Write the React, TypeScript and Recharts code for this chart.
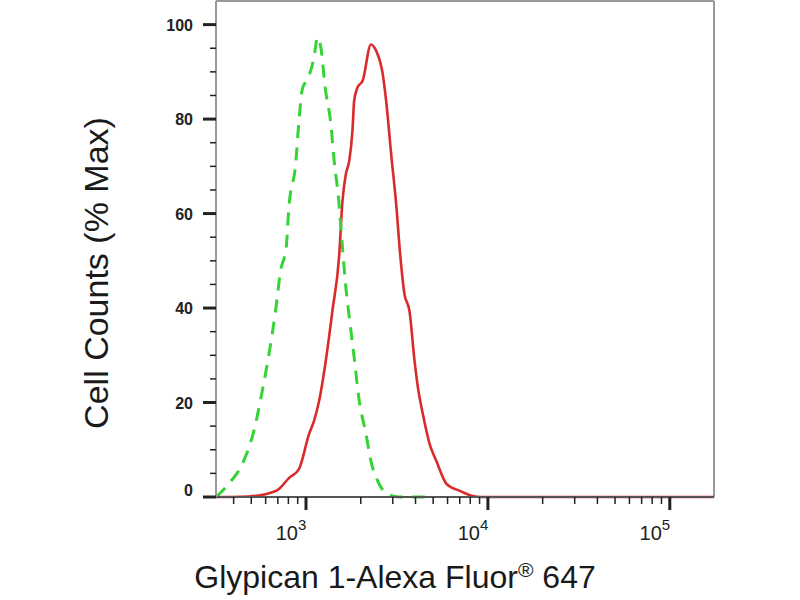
import { LineChart, Line, XAxis, YAxis, ReferenceLine } from "recharts";

// fluorescence intensity (log) and % of max
const isotypeX = [320, 376, 454, 517, 575, 626, 680, 725, 778, 805, 877, 915, 955, 1000, 1062, 1107, 1155, 1206, 1274, 1369, 1428, 1508, 1587, 1650, 1730, 1840, 1963, 2137, 2275, 2476, 2818, 3266, 5000];
const isotypeY = [0, 2.8, 7.6, 14, 22.5, 30.3, 39.4, 47.9, 52.8, 61.3, 70.5, 79.7, 86.4, 88, 90.3, 93.1, 97.3, 95.2, 86.7, 79, 71.2, 63.4, 52.8, 45, 38, 29.5, 20.3, 13.3, 7.6, 3.4, 0.6, 0, 0];

const sampleX = [320, 389, 484, 598, 710, 805, 915, 1039, 1107, 1180, 1284, 1397, 1521, 1587, 1657, 1730, 1800, 1840, 1920, 2048, 2275, 2427, 2642, 2757, 2937, 3131, 3300, 3476, 3705, 3951, 4122, 4392, 4785, 5209, 5918, 7000, 8260, 9225, 175000];
const sampleY = [0, 0, 0.1, 0.6, 1.7, 4, 5.9, 13.3, 16.1, 20.3, 28.8, 39.4, 51, 62.7, 68.4, 71.2, 77.5, 83.9, 86.7, 88.1, 95.8, 94.5, 89.5, 83.9, 72.7, 62, 51, 43, 39.4, 28.8, 23.2, 17.5, 11.2, 7.6, 2.8, 1.3, 0.2, 0, 0];

const xTicks = [400, 500, 600, 700, 800, 900, 1000, 2000, 3000, 4000, 5000, 6000, 7000, 8000, 9000, 10000, 20000, 30000, 40000, 50000, 60000, 70000, 80000, 90000, 100000];
const yTicks = [0, 5, 10, 15, 20, 25, 30, 35, 40, 45, 50, 55, 60, 65, 70, 75, 80, 85, 90, 95, 100];

const isotype = isotypeX.map((x, i) => ({ x, y: isotypeY[i] }));
const sample = sampleX.map((x, i) => ({ x, y: sampleY[i] }));

const font = "'Liberation Sans', Arial, sans-serif";

const XTick = (props: any) => {
  const { x, y, payload } = props;
  const lg = Math.log10(payload.value);
  const e = Math.round(lg);
  const major = Math.abs(lg - e) < 1e-6;
  return (
    <g>
      <line x1={x} x2={x} y1={y} y2={y + (major ? 13 : 7)} stroke="#222" strokeWidth={major ? 3 : 1.5} />
      {major && (
        <g fontFamily={font} fill="#222">
          <text x={x - 8} y={y + 43} textAnchor="end" fontSize={20}>10</text>
          <text x={x - 8} y={y + 33} textAnchor="start" fontSize={15}>{e}</text>
        </g>
      )}
    </g>
  );
};

const YTick = (props: any) => {
  const { x, y, payload } = props;
  const v = payload.value;
  const major = v % 20 === 0;
  return (
    <g>
      <line x1={x - (major ? 13 : 6)} x2={x} y1={y} y2={y} stroke="#222" strokeWidth={major ? 3 : 1.5} />
      {major && (
        <text x={x - 23} y={y} dy={v === 0 ? -1 : 6} textAnchor="end" fontWeight="bold" fill="#222" fontFamily={font} fontSize={16}>
          {v}
        </text>
      )}
    </g>
  );
};

export default function App() {
  return (
    <div style={{ position: "absolute", left: 0, top: 0, background: "#fff" }}>
      <LineChart width={800} height={600} margin={{ top: 1, right: 86, bottom: 63, left: 120 }}>
        <XAxis
          dataKey="x"
          type="number"
          scale="log"
          domain={[320, 175000]}
          allowDataOverflow
          ticks={xTicks}
          interval={0}
          tickSize={0}
          tickMargin={0}
          tickLine={false}
          tick={XTick}
          height={40}
          axisLine={{ stroke: "#555", strokeWidth: 2 }}
          label={{
            content: () => (
              <text x={395} y={588} textAnchor="middle" fill="#1a1a1a" style={{ fontFamily: font, fontSize: 32 }}>
                Glypican 1-Alexa Fluor<tspan dy={-11} style={{ fontSize: 21 }}>®</tspan>
                <tspan dy={11}> 647</tspan>
              </text>
            ),
          }}
        />
        <YAxis
          type="number"
          domain={[0, 105]}
          ticks={yTicks}
          interval={0}
          tickSize={0}
          tickMargin={0}
          tickLine={false}
          tick={YTick}
          width={96}
          axisLine={{ stroke: "#999", strokeWidth: 2 }}
          label={{
            content: () => (
              <text x={108} y={273} transform="rotate(-90, 108, 273)" textAnchor="middle" fill="#1a1a1a" style={{ fontFamily: font, fontSize: 34 }}>
                Cell Counts (% Max)
              </text>
            ),
          }}
        />
        <ReferenceLine y={105} stroke="#999" strokeWidth={2} />
        <ReferenceLine x={175000} stroke="#999" strokeWidth={2} />
        <Line data={sample} dataKey="y" type="monotone" stroke="#d92b2b" strokeWidth={2.6} dot={false} activeDot={false} isAnimationActive={false} />
        <Line data={isotype} dataKey="y" type="monotone" stroke="#36d336" strokeWidth={3} strokeDasharray="13 9" dot={false} activeDot={false} isAnimationActive={false} />
      </LineChart>
    </div>
  );
}
